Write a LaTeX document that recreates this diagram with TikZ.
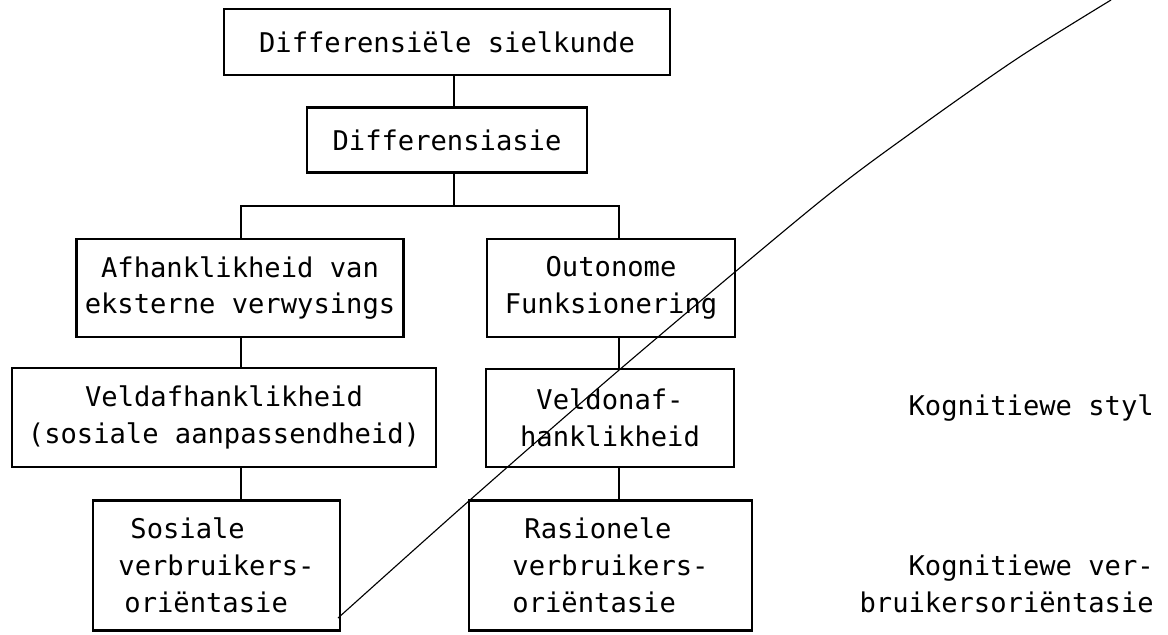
\documentclass[tikz,border=0pt]{standalone}
\usepackage{fontspec}
\setmonofont{DejaVu Sans Mono}
\begin{document}
\begin{tikzpicture}[x=0.025cm, y=-0.025cm,
		box/.style={draw, line width=2pt, inner sep=2pt, align=center,
			font=\ttfamily\fontsize{19.3}{26.2}\selectfont},
		lbl/.style={inner sep=0pt, font=\ttfamily\fontsize{19.3}{26.2}\selectfont},
		tak/.style={line width=2pt}]
		\useasboundingbox (0,0) rectangle (1168,634);
		\node[box, minimum width=11.15cm, minimum height=1.65cm] (top) at (447, 42) {Differensiële sielkunde};
		\node[box, minimum width=7cm, minimum height=1.625cm] (diff) at (447, 140) {Differensiasie};
		\node[box, minimum width=8.175cm, minimum height=2.45cm] (afh) at (240, 288) {Afhanklikheid van\\eksterne verwysings};
		\node[box, minimum width=6.2cm, minimum height=2.45cm] (out) at (611, 288) {Outonome\\Funksionering};
		\node[box, minimum width=10.6cm, minimum height=2.475cm] (veldafh) at (224, 417.5) {Veldafhanklikheid\\(sosiale aanpassendheid)};
		\node[box, minimum width=6.2cm, minimum height=2.45cm] (veldonaf) at (610, 418) {Veldonaf-\\hanklikheid};
		\node[box, align=left, minimum width=6.175cm, minimum height=3.25cm] (sosiale) at (216.5, 565.5) {\hspace{0.3cm}Sosiale\\verbruikers-\\\hspace{0.15cm}oriëntasie};
		\node[box, align=left, minimum width=7.075cm, minimum height=3.25cm] (rasionele) at (610.5, 565.5) {\hspace{0.3cm}Rasionele\\verbruikers-\\oriëntasie};
		\node[lbl, anchor=east] (styl) at (1154, 408) {Kognitiewe styl};
		\node[lbl, anchor=east, align=right] (orient) at (1154, 584) {Kognitiewe ver-\\bruikersoriëntasie};
		% connectors
		\coordinate (mid) at (454, 0);
		\coordinate (lcol) at (241, 0);
		\coordinate (rcol) at (619, 0);
		\coordinate (fork) at (454, 206);
		\draw[tak] (top.south -| mid) -- (diff.north -| mid);
		\draw[tak] (diff.south -| mid) -- (fork);
		\draw[tak] (afh.north -| lcol) |- (fork) -| (out.north -| rcol);
		\draw[tak] (afh.south -| lcol) -- (veldafh.north -| lcol);
		\draw[tak] (veldafh.south -| lcol) -- (sosiale.north -| lcol);
		\draw[tak] (out.south -| rcol) -- (veldonaf.north -| rcol);
		\draw[tak] (veldonaf.south -| rcol) -- (rasionele.north -| rcol);
		% stray stroke across the sheet
		\draw[line width=0.8pt] plot[smooth] coordinates {(338,618) (470,500) (625,365) (818,203) (918,128) (1018,58) (1111,0)};
	\end{tikzpicture}
\end{document}
